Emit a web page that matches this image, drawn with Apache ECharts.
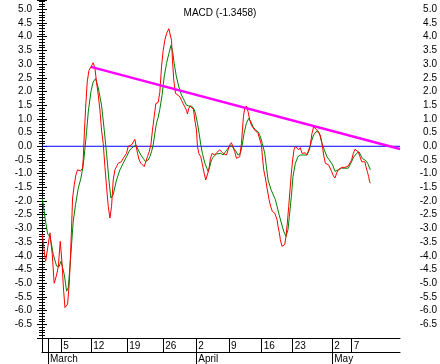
<!DOCTYPE html>
<html><head><meta charset="utf-8">
<script src="https://cdn.jsdelivr.net/npm/echarts@6/dist/echarts.min.js"></script>
<style>html,body{margin:0;padding:0;background:#fff}#c{width:440px;height:364px}</style>
</head><body><div id="c"></div>
<script>
// x unit: trading days counted from Feb 29 (0)
const dayTickPos = [0, 0.91, 2.92, 7.47, 12.92, 18.38, 23.39, 28.38, 33.33, 38.03, 44.03, 46.98];
const dayTickLabels = ['', '', '5', '12', '19', '26', '2', '9', '16', '23', '2', '7'];
const monthTickPos = [0.91, 23.39, 44.03];
const monthLabels = ['March', 'April', 'May'];
const yLabelValues = [-6.5, -6, -5.5, -5, -4.5, -4, -3.5, -3, -2.5, -2, -1.5, -1, -0.5, 0, 0.5, 1, 1.5, 2, 2.5, 3, 3.5, 4, 4.5, 5];

const macd = [
[0.05,-3.22],[0.45,-4.07],[0.55,-4.2],[1.21,-3.16],[1.56,-3.95],[1.82,-4.92],[1.86,-5.0],[2.21,-4.7],[2.47,-4.4],[2.77,-3.47],[2.97,-3.47],[3.08,-4.4],[3.23,-5.1],[3.48,-5.89],[3.64,-5.93],[3.88,-5.76],[4.14,-5.0],[4.33,-3.95],[4.48,-2.98],[4.64,-1.89],[4.89,-1.41],[5.15,-1.04],[5.39,-0.86],[5.61,-0.8],[5.85,-0.9],[6.15,-0.8],[6.26,-0.44],[6.41,0.41],[6.61,1.39],[6.86,2.35],[7.12,2.77],[7.42,2.9],[7.77,3.05],[8.03,2.84],[8.27,2.35],[8.53,1.87],[8.79,1.32],[9.03,0.59],[9.29,0.1],[9.54,-0.74],[9.79,-1.47],[10.05,-2.2],[10.3,-2.62],[10.55,-2.2],[10.8,-1.23],[11.06,-0.86],[11.31,-0.74],[11.56,-0.62],[12.06,-0.56],[12.32,-0.44],[12.82,-0.26],[13.08,0.0],[13.58,0.05],[13.83,0.1],[14.09,0.25],[14.24,0.05],[14.49,-0.26],[14.74,-0.5],[15.0,-0.62],[15.25,-0.62],[15.5,-0.74],[15.75,-0.56],[16.0,-0.38],[16.26,-0.2],[16.51,0.05],[16.76,0.59],[17.01,1.08],[17.27,1.56],[17.62,1.6],[17.87,1.97],[18.13,2.9],[18.38,3.5],[18.63,3.87],[18.88,4.11],[19.24,4.29],[19.44,4.25],[19.64,3.87],[19.79,3.14],[19.99,2.41],[20.25,1.93],[20.55,1.87],[20.9,1.81],[21.16,1.68],[21.41,1.56],[21.66,1.44],[21.91,1.32],[22.06,1.18],[22.27,1.39],[22.47,1.47],[22.67,1.47],[22.97,1.35],[23.18,0.96],[23.43,0.59],[23.58,0.0],[23.78,-0.26],[24.08,-0.38],[24.29,-0.62],[24.59,-0.98],[24.84,-1.23],[25.09,-1.29],[25.3,-0.86],[25.55,-0.44],[25.8,-0.26],[25.95,-0.2],[26.21,-0.32],[26.46,-0.24],[26.71,-0.22],[26.96,-0.13],[27.22,-0.11],[27.47,-0.26],[27.72,-0.32],[27.97,-0.32],[28.23,-0.13],[28.48,0.05],[28.73,0.13],[28.98,0.08],[29.24,-0.2],[29.49,-0.44],[29.74,-0.44],[29.99,-0.38],[30.25,0.1],[30.4,0.59],[30.55,1.08],[30.75,1.39],[31.0,1.47],[31.26,1.26],[31.51,0.96],[31.76,0.77],[32.01,0.72],[32.27,0.59],[32.52,0.53],[32.77,0.47],[33.02,0.41],[33.28,0.05],[33.43,-0.38],[33.63,-0.86],[33.88,-1.16],[34.18,-1.59],[34.44,-1.95],[34.69,-2.2],[34.94,-2.38],[35.3,-2.44],[35.65,-2.68],[35.8,-2.92],[36.0,-3.16],[36.15,-3.41],[36.4,-3.65],[36.56,-3.71],[36.81,-3.59],[37.01,-3.29],[37.21,-2.8],[37.42,-2.2],[37.62,-1.59],[37.82,-0.98],[38.02,-0.5],[38.22,-0.13],[38.43,0.0],[38.68,-0.05],[38.93,-0.13],[39.18,-0.05],[39.44,-0.26],[39.69,-0.32],[39.94,-0.24],[40.19,-0.32],[40.45,-0.32],[40.7,0.05],[40.95,0.47],[41.2,0.71],[41.46,0.66],[41.71,0.59],[41.96,0.57],[42.21,0.41],[42.47,0.1],[42.72,-0.32],[42.97,-0.62],[43.22,-0.68],[43.48,-0.68],[43.73,-0.74],[43.93,-0.92],[44.19,-1.08],[44.44,-1.16],[44.69,-0.98],[44.94,-0.86],[45.2,-0.8],[45.45,-0.77],[45.7,-0.78],[45.95,-0.77],[46.21,-0.74],[46.46,-0.72],[46.71,-0.68],[46.96,-0.5],[47.22,-0.26],[47.47,-0.11],[47.72,-0.07],[47.97,-0.2],[48.23,-0.38],[48.48,-0.56],[48.73,-0.62],[48.98,-0.57],[49.13,-0.74],[49.34,-0.92],[49.54,-1.1],[49.69,-1.29],[49.8,-1.3458]
];

const signal = [
[0.05,-1.89],[0.45,-2.6],[0.85,-3.2],[1.21,-3.3],[1.71,-3.95],[2.21,-4.37],[2.58,-4.4],[2.88,-4.2],[3.38,-4.68],[3.73,-5.29],[3.98,-5.16],[4.24,-4.4],[4.48,-3.6],[4.74,-2.73],[5.09,-2.13],[5.5,-1.53],[5.91,-1.16],[6.26,-0.68],[6.52,-0.07],[6.76,0.53],[7.02,1.26],[7.42,1.99],[7.77,2.35],[8.12,2.47],[8.53,2.14],[9.03,1.5],[9.44,0.59],[9.79,-0.26],[10.15,-1.23],[10.45,-1.89],[10.8,-1.77],[11.3,-1.23],[11.82,-0.86],[12.32,-0.62],[12.82,-0.38],[13.33,-0.13],[13.83,-0.02],[14.24,0.05],[14.59,-0.13],[15.0,-0.32],[15.35,-0.44],[15.7,-0.56],[16.11,-0.5],[16.36,-0.38],[16.61,-0.2],[16.86,0.05],[17.12,0.47],[17.36,0.84],[17.62,1.05],[17.87,1.35],[18.2,1.85],[18.53,2.53],[18.88,3.02],[19.24,3.38],[19.55,3.68],[19.79,3.5],[20.05,3.02],[20.39,2.53],[20.76,2.17],[21.15,1.87],[21.56,1.68],[21.91,1.5],[22.27,1.47],[22.67,1.47],[23.08,1.35],[23.33,1.14],[23.58,0.84],[23.83,0.47],[24.09,0.05],[24.33,-0.26],[24.7,-0.62],[25.0,-0.8],[25.2,-0.92],[25.45,-0.74],[25.7,-0.5],[25.95,-0.4],[26.45,-0.28],[26.71,-0.3],[27.12,-0.26],[27.47,-0.32],[27.82,-0.2],[28.23,-0.07],[28.64,0.03],[28.98,-0.04],[29.33,-0.15],[29.74,-0.32],[30.09,-0.26],[30.35,0.03],[30.65,0.47],[31.0,0.84],[31.36,1.02],[31.67,0.9],[32.02,0.71],[32.38,0.59],[32.77,0.53],[33.12,0.35],[33.42,0.1],[33.79,-0.26],[34.03,-0.74],[34.29,-1.23],[34.75,-1.59],[35.4,-1.95],[35.9,-2.44],[36.3,-2.8],[36.66,-3.1],[37.01,-3.29],[37.31,-3.04],[37.52,-2.56],[37.82,-1.83],[38.07,-1.1],[38.43,-0.62],[38.83,-0.38],[39.18,-0.32],[39.69,-0.32],[40.19,-0.32],[40.55,-0.13],[40.85,0.17],[41.2,0.41],[41.56,0.53],[41.96,0.53],[42.21,0.35],[42.47,0.1],[42.82,-0.13],[43.22,-0.38],[43.58,-0.5],[44.08,-0.68],[44.44,-0.92],[44.69,-0.95],[44.94,-0.86],[45.45,-0.8],[45.95,-0.8],[46.46,-0.8],[46.71,-0.77],[46.96,-0.56],[47.32,-0.38],[47.72,-0.26],[48.07,-0.2],[48.33,-0.26],[48.58,-0.44],[48.83,-0.5],[49.13,-0.53],[49.39,-0.62],[49.64,-0.68],[49.8,-0.86]
];

const trend = [[7.42, 2.9], [54.3, -0.1]];
const zeroLine = [[0, 0], [54.3, 0]];
const xMin = 0, xMax = 54.3;
const yMin = -7, yMax = 5.34;

const FONT = 'Liberation Sans, Arial, sans-serif';
const chart = echarts.init(document.getElementById('c'), null, {renderer: 'canvas'});

function nearestLabel(v, pos, labels) {
  let best = 0, bd = Infinity;
  pos.forEach((p, i) => { const d = Math.abs(p - v); if (d < bd) { bd = d; best = i; } });
  return labels[best];
}
function yFmt(v) {
  const ok = yLabelValues.some(t => Math.abs(t - v) < 1e-6);
  return ok ? v.toFixed(1) : '';
}
const labelledPos = dayTickPos.filter((p, i) => dayTickLabels[i] !== '');

const yCommon = {
  type: 'value', min: yMin, max: yMax, interval: 0.5,
  axisLine: {show: true, lineStyle: {color: '#000', width: 1}},
  axisTick: {show: true, length: 5, lineStyle: {color: '#000'}},
  minorTick: {show: true, splitNumber: 5, length: 3, lineStyle: {color: '#000'}},
  splitLine: {show: false}, minorSplitLine: {show: false}
};

chart.setOption({
  animation: false,
  backgroundColor: '#fff',
  title: {
    text: 'MACD (' + macd[macd.length - 1][1].toFixed(4) + ')',
    left: 'center', top: 3,
    textStyle: {fontFamily: FONT, fontSize: 10, fontWeight: 'normal', color: '#000'}
  },
  grid: {left: 42, right: 40, top: 0, bottom: 26, containLabel: false},
  xAxis: [{
    type: 'value', min: xMin, max: xMax, position: 'bottom',
    axisLine: {show: true, onZero: false, lineStyle: {color: '#000', width: 1}},
    splitLine: {show: false},
    axisTick: {show: true, customValues: dayTickPos, length: 14, inside: false, lineStyle: {color: '#000'}},
    axisLabel: {
      show: true, customValues: labelledPos,
      formatter: v => nearestLabel(v, dayTickPos, dayTickLabels),
      align: 'left', verticalAlign: 'middle', margin: 8, padding: [0, 0, 0, 2],
      fontFamily: FONT, fontSize: 10, color: '#000'
    }
  }, {
    type: 'value', min: xMin, max: xMax, position: 'bottom', offset: 14,
    axisLine: {show: true, onZero: false, lineStyle: {color: '#000', width: 1}},
    splitLine: {show: false},
    axisTick: {show: true, customValues: monthTickPos, length: 12, inside: false, lineStyle: {color: '#000'}},
    axisLabel: {
      show: true, customValues: monthTickPos,
      formatter: v => nearestLabel(v, monthTickPos, monthLabels),
      align: 'left', verticalAlign: 'middle', margin: 7, padding: [0, 0, 0, 2],
      fontFamily: FONT, fontSize: 10, color: '#000'
    }
  }],
  yAxis: [
    Object.assign({}, yCommon, {position: 'left',
      axisLabel: {formatter: yFmt, margin: 10, fontFamily: FONT, fontSize: 10, color: '#000'}}),
    Object.assign({}, yCommon, {position: 'right',
      axisLabel: {formatter: yFmt, margin: 37, align: 'right', fontFamily: FONT, fontSize: 10, color: '#000'}})
  ],
  series: [
    {type: 'line', name: 'zero', data: zeroLine, showSymbol: false, symbol: 'none',
     lineStyle: {color: '#0000ff', width: 1}, z: 1},
    {type: 'line', name: 'signal', data: signal, showSymbol: false, symbol: 'none',
     lineStyle: {color: '#008000', width: 1}, z: 2},
    {type: 'line', name: 'macd', data: macd, showSymbol: false, symbol: 'none',
     lineStyle: {color: '#ff0000', width: 1}, z: 3},
    {type: 'line', name: 'trend', data: trend, showSymbol: false, symbol: 'none',
     lineStyle: {color: '#ff00ff', width: 2.5}, z: 4}
  ]
});
</script>
</body></html>
